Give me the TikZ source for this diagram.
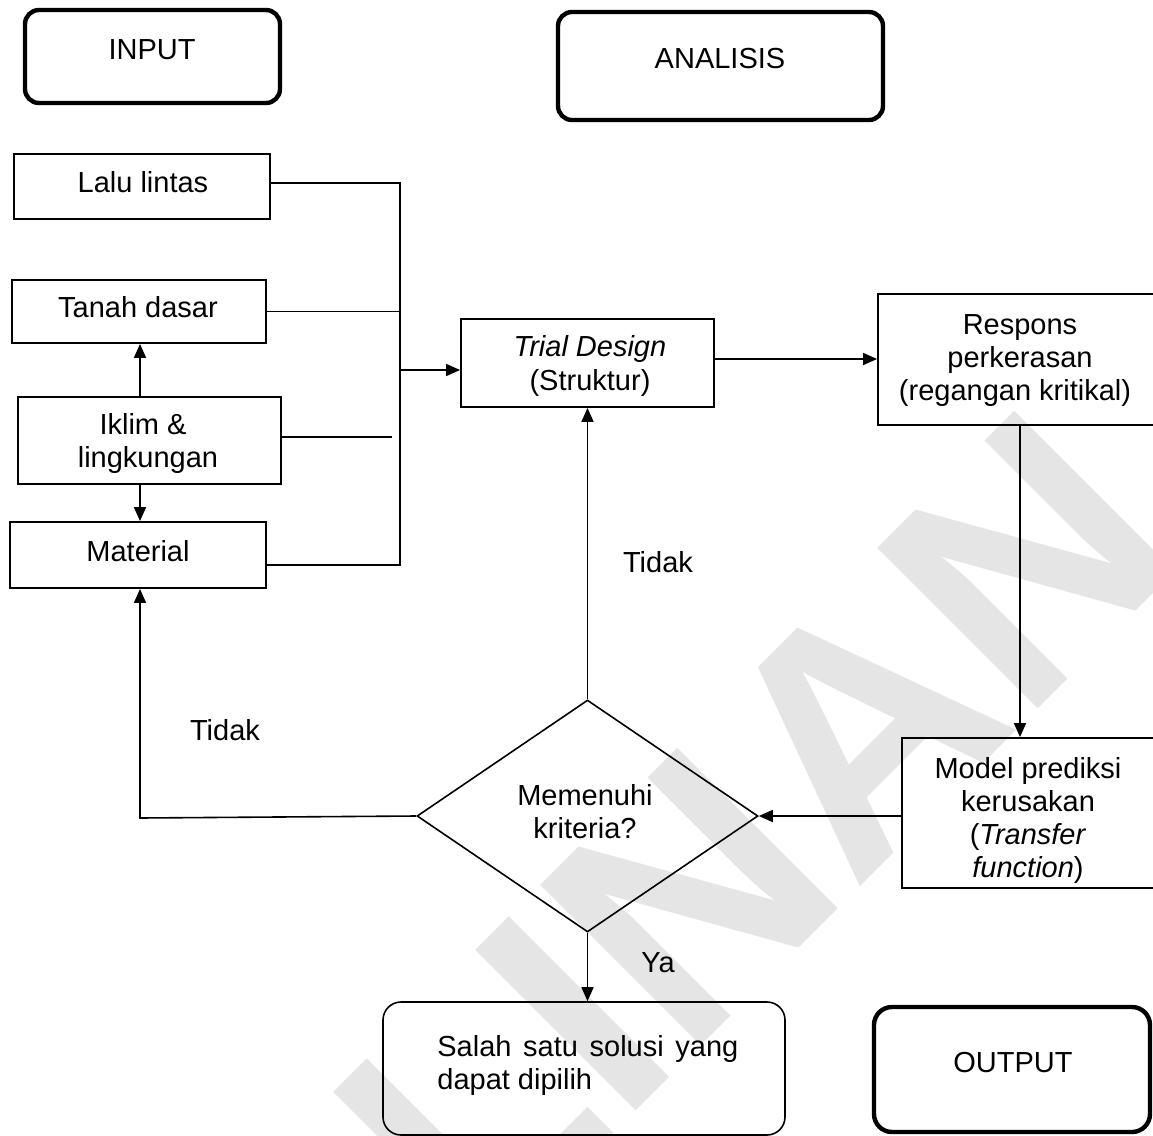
\documentclass[tikz,border=0pt]{standalone}
\usepackage{fontspec}
\setmainfont{Liberation Sans}
\usetikzlibrary{arrows.meta,shapes.geometric}
\begin{document}
\begin{tikzpicture}[x=0.5pt,y=-0.5pt,
  box/.style={draw, line width=0.9pt, inner sep=0pt},
  thickbox/.style={draw, line width=2.2pt, rounded corners=7pt, inner sep=0pt},
  thinround/.style={draw, line width=0.8pt, rounded corners=9pt, inner sep=0pt},
  txt/.style={inner sep=0pt, anchor=base, font=\fontsize{14.5}{17}\selectfont},
  conn/.style={line width=0.8pt},
  arr/.style={line width=0.8pt, -{Triangle[length=7pt,width=6pt]}},
  wm/.style={inner sep=0pt, anchor=base west, rotate=45, text=black!10,
             font=\fontsize{165}{165}\selectfont\bfseries}
]
\useasboundingbox (0,0) rectangle (1153,1136);
% watermark
\node[wm] (wmark) at (154,1593) {SALINAN};

% header boxes
\node[thickbox, minimum width=127.5pt, minimum height=46.5pt] (input) at (152.5,56.5) {};
\node[txt] (inputt) at (152,59) {INPUT};
\node[thickbox, minimum width=162.5pt, minimum height=54pt] (anal) at (720.5,66) {};
\node[txt] (analt) at (720,68) {ANALISIS};
\node[thickbox, rounded corners=9pt, minimum width=138pt, minimum height=62.5pt] (output) at (1012,1069.5) {};
\node[txt] (outputt) at (1013,1072) {OUTPUT};

% input boxes
\node[box, minimum width=128pt, minimum height=32.5pt] (lalu) at (142,186.5) {};
\node[txt] (lalut) at (143,192) {Lalu lintas};
\node[box, minimum width=127pt, minimum height=31.5pt] (tanah) at (139,311.5) {};
\node[txt] (tanaht) at (138,317) {Tanah dasar};
\node[box, minimum width=131.5pt, minimum height=43.5pt] (iklim) at (149.5,440.5) {};
\node[txt] (iklimt1) at (143,434) {Iklim \&};
\node[txt] (iklimt2) at (148,467) {lingkungan};
\node[box, minimum width=128pt, minimum height=33pt] (mat) at (138,555) {};
\node[txt] (matt) at (138,561) {Material};

% analysis boxes
\node[box, minimum width=126.5pt, minimum height=44pt] (trial) at (587.5,363) {};
\node[txt] (trialt1) at (590,356) {\itshape Trial Design};
\node[txt] (trialt2) at (590,390) {(Struktur)};
\node[box, minimum width=141pt, minimum height=65.5pt] (resp) at (1019,359.5) {};
\node[txt] (respt1) at (1020,334) {Respons};
\node[txt] (respt2) at (1020,367) {perkerasan};
\node[txt] (respt3) at (1015,400) {(regangan kritikal)};
\node[box, minimum width=129pt, minimum height=75pt] (model) at (1031,813) {};
\node[txt] (modelt1) at (1028,778) {Model prediksi};
\node[txt] (modelt2) at (1028,811) {kerusakan};
\node[txt] (modelt3) at (1028,844) {(\textit{Transfer}};
\node[txt] (modelt4) at (1028,877) {\textit{function})};
\node[draw, diamond, line width=0.8pt, inner sep=0pt, minimum width=170.5pt, minimum height=116pt] (dia) at (587.5,816) {};
\node[txt] (diat1) at (585,805) {Memenuhi};
\node[txt] (diat2) at (585,838) {kriteria?};
\node[thinround, minimum width=201pt, minimum height=66.5pt] (salah) at (584,1068.5) {};
\node[txt, anchor=base west] (salaht1) at (437,1056) {\makebox[150.5pt][s]{Salah satu solusi yang}};
\node[txt, anchor=base west] (salaht2) at (437,1089) {dapat dipilih};

% labels
\node[txt] (tidak1) at (658,572) {Tidak};
\node[txt] (tidak2) at (225,740) {Tidak};
\node[txt] (ya) at (658,972) {Ya};

% bus
\coordinate (busT) at (400,183);
\coordinate (busB) at (400,565);
\coordinate (busM) at (400,370);
\coordinate (iklE) at (392,437);
\draw[conn] (lalu.east |- busT) -- (busT) -- (busB) -- (busB -| mat.east);
\draw[conn] (tanah.east) -- (tanah.east -| busT);
\draw[conn] (iklim.east |- iklE) -- (iklE);
\draw[arr] (busM) -- (busM -| trial.west);
% iklim arrows
\coordinate (ikx) at (140,440);
\draw[arr] (ikx |- iklim.north) -- (ikx |- tanah.south);
\draw[arr] (ikx |- iklim.south) -- (ikx |- mat.north);
% trial -> resp
\coordinate (trY) at (716,359);
\draw[arr] (trial.east |- trY) -- (resp.west |- trY);
% resp -> model
\coordinate (rmX) at (1020,600);
\draw[arr] (rmX |- resp.south) -- (rmX |- model.north);
% model -> dia
\draw[arr] (model.west |- dia.east) -- (dia.east);
% dia -> trial
\draw[arr] (dia.north) -- (dia.north |- trial.south);
% dia -> material
\coordinate (lft) at (140,818);
\draw[arr] (dia.west) -- (lft) -- (lft |- mat.south);
% dia -> salah
\draw[arr] (dia.south) -- (dia.south |- salah.north);
\end{tikzpicture}
\end{document}
